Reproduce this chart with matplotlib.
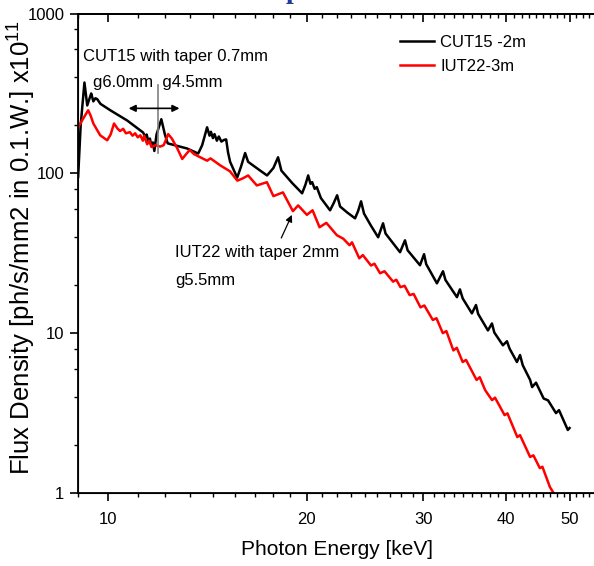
import matplotlib
matplotlib.use("Agg")
import matplotlib.pyplot as plt
from matplotlib.ticker import FixedLocator, NullFormatter

plt.rcParams['font.family'] = ['Liberation Sans', 'DejaVu Sans']
plt.rcParams['mathtext.default'] = 'regular'

# CUT15 -2m (black)
cut_e = [9.02, 9.10, 9.22, 9.31, 9.40, 9.44, 9.51, 9.58, 9.64, 9.75, 10.09, 10.70, 11.31,
         11.40, 11.45, 11.52, 11.58, 11.64, 11.70, 11.76, 11.85, 12.05, 12.20, 12.32,
         13.18, 13.70, 13.89, 14.13, 14.25, 14.32, 14.42, 14.50, 14.62, 14.72, 14.85,
         15.00, 15.10, 15.20, 15.31, 15.69, 15.90, 16.13, 16.30, 17.00, 17.41, 17.80,
         18.09, 18.30, 19.00, 19.67, 19.90, 20.09, 20.25, 20.37, 20.55, 20.70, 21.00,
         21.68, 21.95, 22.22, 22.45, 23.00, 23.65, 23.90, 24.15, 24.40, 25.00, 25.63,
         26.07, 26.30, 27.00, 27.66, 28.14, 28.40, 29.65, 30.07, 30.30, 31.45, 32.12,
         32.40, 33.72, 34.07, 34.40, 35.52, 36.03, 36.30, 37.56, 38.09, 38.40, 39.57,
         40.13, 40.50, 41.55, 42.00, 42.40, 43.50, 43.80, 44.40, 45.60, 46.30, 47.60,
         48.10, 49.60, 49.90]
cut_f = [95, 200, 370, 266, 300, 316, 282, 295, 291, 272, 248, 214, 180,
         168, 175, 158, 165, 148, 156, 138, 175, 218, 175, 154,
         143, 133, 150, 194, 172, 182, 166, 176, 160, 170, 158,
         162, 163, 135, 118, 94, 110, 134, 118, 104, 97, 108,
         126, 104, 87, 75, 85, 97, 86, 88, 80, 82, 70,
         58.7, 65, 72.9, 62, 57, 52.3, 58, 66.8, 56, 47, 39.8,
         48.7, 42, 36.5, 32.1, 38.1, 33, 26.6, 31.2, 27, 20.5, 24.4,
         21.5, 16.8, 18.8, 16.5, 13.3, 15.0, 13.2, 10.4, 11.5, 10.1, 8.4,
         8.9, 8.0, 6.6, 7.3, 6.3, 5.1, 4.6, 4.9, 3.9, 3.8, 3.16,
         3.3, 2.48, 2.55]

# IUT22-3m (red)
iut_e = [9.00, 9.15, 9.34, 9.42, 9.51, 9.74, 9.98, 10.10, 10.22, 10.35, 10.44, 10.55,
         10.65, 10.80, 10.90, 11.00, 11.10, 11.20, 11.30, 11.35, 11.47, 11.55, 11.65,
         11.80, 12.00, 12.15, 12.34, 12.50, 12.74, 12.96, 13.10, 13.30, 13.50, 13.80,
         14.13, 14.30, 14.80, 15.30, 15.70, 16.00, 16.30, 16.80, 17.10, 17.40, 17.80,
         18.10, 18.40, 19.05, 19.40, 20.00, 20.40, 20.90, 21.40, 22.20, 22.70, 23.20,
         23.40, 24.00, 24.30, 25.00, 25.30, 25.80, 26.20, 27.00, 27.30, 27.70, 28.10,
         28.60, 29.00, 29.70, 30.10, 31.00, 31.40, 32.10, 32.50, 33.30, 33.70, 34.40,
         34.80, 36.10, 36.50, 37.20, 38.10, 38.50, 39.80, 40.20, 41.60, 42.00, 43.50,
         44.00, 45.00, 45.40, 46.60, 47.20, 48.00]
iut_f = [191, 215, 248, 230, 205, 173, 161, 175, 205, 190, 184, 190,
         178, 181, 172, 178, 168, 173, 160, 172, 152, 160, 146,
         150, 147, 150, 176, 165, 143, 123, 130, 140, 132, 126,
         120, 124, 112, 103, 90, 93, 97, 84, 86, 88, 72,
         74, 76, 58, 63, 55, 58.7, 46, 49, 41, 39, 35.5,
         37, 29.4, 30.8, 26.5, 27.2, 23.7, 24.4, 21, 21.6, 19.4, 19.8,
         17.3, 17.6, 14.5, 14.9, 12.1, 12.4, 10.0, 10.3, 7.8, 8.1, 6.6,
         6.8, 5.1, 5.3, 4.4, 3.81, 3.95, 3.07, 3.15, 2.24, 2.3, 1.68,
         1.72, 1.43, 1.46, 1.09, 1.0, 0.9]

x_major = [10, 20, 30, 40, 50]
x_minor = [9.0] + [a + (b - a) * k / 9 for a, b in zip(x_major, x_major[1:] + [60])
                   for k in range(1, 9)]
y_major = [1, 10, 100, 1000]
y_minor = [2, 4, 6, 8, 20, 40, 60, 80, 200, 400, 600, 800]

fig = plt.figure(figsize=(5.94, 5.66), dpi=100)
ax = fig.add_axes([77.5 / 594, 73 / 566, 545 / 594, 479.5 / 566])

ax.plot(cut_e, cut_f, color='black', lw=1.8, label='CUT15 -2m')
ax.plot(iut_e, iut_f, color='#ff0000', lw=1.8, label='IUT22-3m')

ax.set_xscale('log')
ax.set_yscale('log')
ax.set_xlim(9.0, 60)
ax.set_ylim(1, 1000)

ax.xaxis.set_major_locator(FixedLocator(x_major))
ax.xaxis.set_minor_locator(FixedLocator(x_minor))
ax.set_xticklabels([str(v) for v in x_major])
ax.xaxis.set_minor_formatter(NullFormatter())
ax.yaxis.set_major_locator(FixedLocator(y_major))
ax.set_yticklabels([str(v) for v in y_major])
ax.yaxis.set_minor_locator(FixedLocator(y_minor))
ax.yaxis.set_minor_formatter(NullFormatter())

ax.tick_params(axis='both', which='major', direction='out', length=6, width=1.2, labelsize=12)
ax.tick_params(axis='both', which='minor', direction='out', length=3, width=1.0)
ax.tick_params(axis='x', which='both', pad=8)
ax.spines['right'].set_visible(False)
for s in ['left', 'bottom', 'top']:
    ax.spines[s].set_linewidth(1.3)

# top ticks point inwards, no labels
top = ax.twiny()
top.set_xscale('log')
top.set_xlim(ax.get_xlim())
top.xaxis.set_major_locator(FixedLocator(x_major))
top.xaxis.set_minor_locator(FixedLocator(x_minor))
top.xaxis.set_major_formatter(NullFormatter())
top.xaxis.set_minor_formatter(NullFormatter())
top.tick_params(which='major', direction='in', length=6, width=1.2)
top.tick_params(which='minor', direction='in', length=3, width=1.0)
top.spines['right'].set_visible(False)
top.spines['top'].set_linewidth(1.3)

ax.set_xlabel('Photon Energy [keV]', fontsize=15)
ax.xaxis.set_label_coords(0.476, -0.097)
ax.set_ylabel('Flux Density [ph/s/mm2 in 0.1.W.] x10$^{11}$', fontsize=18.5)
ax.yaxis.set_label_coords(-0.072, 0.513)

leg = ax.legend(loc='upper left', bbox_to_anchor=(0.565, 0.987), frameon=False, fontsize=12,
                handlelength=2.0, handletextpad=0.4, labelspacing=0.55)

ax.text(0.01, 0.91, 'CUT15 with taper 0.7mm', transform=ax.transAxes, fontsize=12,
        va='center', ha='left')
ax.text(0.028, 0.857, 'g6.0mm  g4.5mm', transform=ax.transAxes, fontsize=12,
        va='center', ha='left')
ax.annotate('', xy=(10.65, 255), xytext=(12.96, 255),
            arrowprops=dict(arrowstyle='<|-|>', color='black', lw=1.2, mutation_scale=10))
ax.plot([11.9, 11.9], [134, 355], color='#808080', lw=1.2)

ax.text(0.179, 0.502, 'IUT22 with taper 2mm', transform=ax.transAxes, fontsize=12,
        va='center', ha='left')
ax.text(0.179, 0.443, 'g5.5mm', transform=ax.transAxes, fontsize=12,
        va='center', ha='left')
ax.annotate('', xy=(19.06, 57), xytext=(18.22, 38),
            arrowprops=dict(arrowstyle='-|>', color='black', lw=0.9, mutation_scale=10))

fig.text(293 / 594, 1 + 2 / 566, 'p', color='#1f3c99', fontsize=20, fontweight='bold',
         family='Liberation Serif', ha='center', va='baseline')

fig.savefig('out.png', dpi=100)
